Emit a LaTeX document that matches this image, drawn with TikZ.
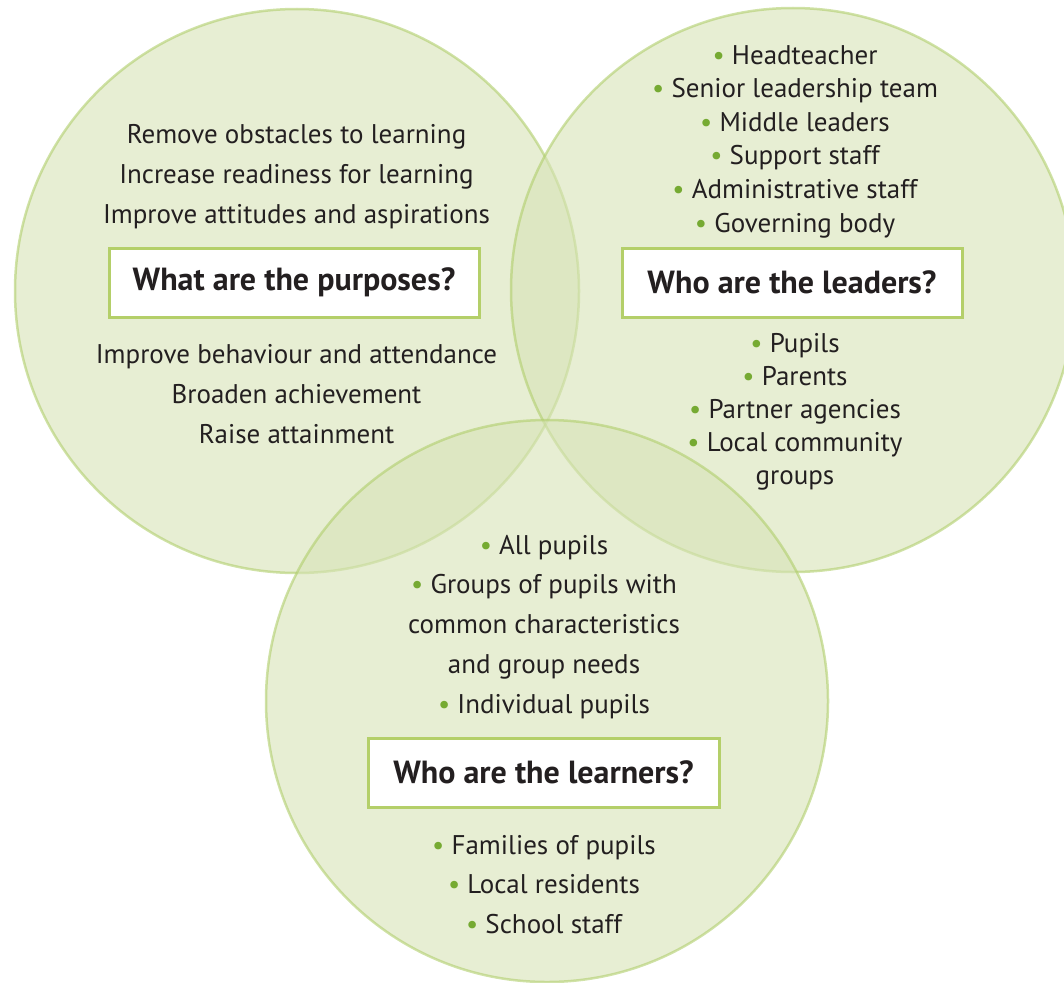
\documentclass[tikz,border=0pt]{standalone}
\usepackage{fontspec}
\setmainfont{PT Sans}
\definecolor{circfill}{RGB}{215,227,182}
\definecolor{circline}{RGB}{176,206,108}
\definecolor{boxline}{RGB}{180,207,105}
\definecolor{bulletgreen}{RGB}{118,170,50}
\definecolor{ink}{RGB}{35,31,32}
\newcommand{\bul}{\textcolor{bulletgreen}{\textbullet}\ }

\begin{document}
\begin{tikzpicture}[x=1pt,y=-1pt,
  venn/.style={fill=circfill, draw=circline, line width=2.5pt,
    fill opacity=0.6, draw opacity=0.6},
  askbox/.style={draw=boxline, fill=white, line width=3pt, minimum height=69pt,
    inner sep=0pt, text=ink, font=\fontsize{32}{37}\selectfont\bfseries},
  item/.style={anchor=base, inner sep=0pt, text=ink,
    font=\fontsize{27}{31}\selectfont}]
\useasboundingbox (0,0) rectangle (1064,982);
\clip (0,0) rectangle (1064,982);

% the three overlapping circles
\path[venn] (297,291) circle[radius=282pt];
\path[venn] (793,290) circle[radius=282pt];
\path[venn] (547,701) circle[radius=281pt];

% question boxes
\node[askbox, minimum width=370pt] (purposes) at (294,282.5) {What are the purposes?};
\node[askbox, minimum width=340pt] (leaders) at (792,282.5) {Who are the leaders?};
\node[askbox, minimum width=351pt] (learners) at (543.5,772.5) {Who are the learners?};

% purposes
\foreach \t [count=\i] in {Remove obstacles to learning, Increase readiness for learning, Improve attitudes and aspirations}
  \node[item] (purA\i) at (296.5,{143+40*(\i-1)}) {\t};
\foreach \t [count=\i] in {Improve behaviour and attendance, Broaden achievement, Raise attainment}
  \node[item] (purB\i) at (296.5,{363.5+40*(\i-1)}) {\t};

% leaders
\foreach \t [count=\i] in {\bul Headteacher, \bul Senior leadership team, \bul Middle leaders, \bul Support staff, \bul Administrative staff, \bul Governing body}
  \node[item] (leaA\i) at (795,{64+33.6*(\i-1)}) {\t};
\foreach \t [count=\i] in {\bul Pupils, \bul Parents, \bul Partner agencies, \bul Local community, groups}
  \node[item] (leaB\i) at (795,{352+33*(\i-1)}) {\t};

% learners
\foreach \t [count=\i] in {\bul All pupils, \bul Groups of pupils with, common characteristics, and group needs, \bul Individual pupils}
  \node[item] (lrnA\i) at (544,{554+39.8*(\i-1)}) {\t};
\foreach \t [count=\i] in {\bul Families of pupils, \bul Local residents, \bul School staff}
  \node[item] (lrnB\i) at (544,{854+39.5*(\i-1)}) {\t};
\end{tikzpicture}
\end{document}
